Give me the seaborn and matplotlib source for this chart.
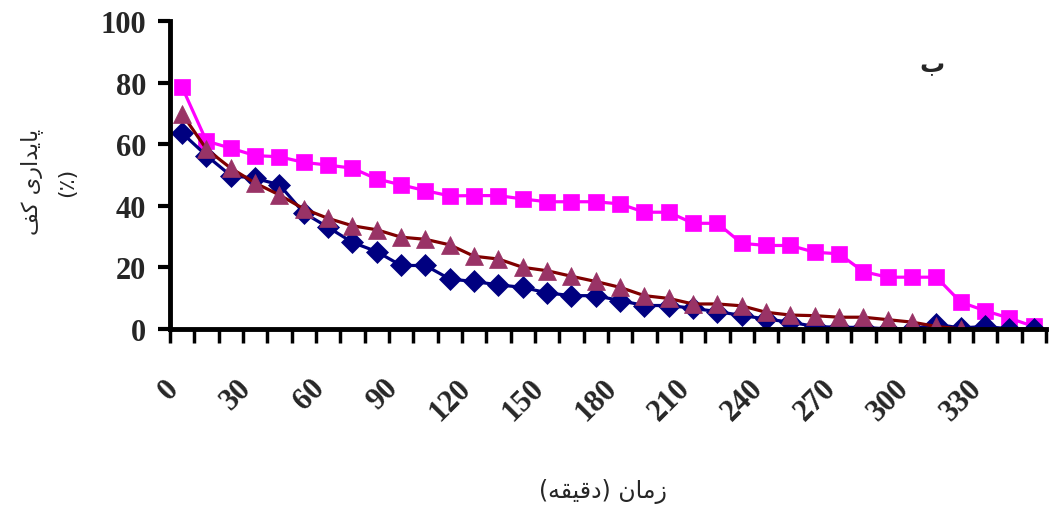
import numpy as np
import pandas as pd
import matplotlib
matplotlib.use('Agg')
import matplotlib.pyplot as plt
import matplotlib.transforms as mtransforms
import seaborn as sns

# زمان (دقیقه) - one category every 10 minutes
minutes = list(range(0, 360, 10))
tick_labels = ['0', '30', '60', '90', '120', '150', '180', '210', '240', '270', '300', '330']

navy_vals = [63.6, 56.3, 49.8, 48.9, 46.8, 37.7, 33.0, 28.1, 25.1, 20.6, 20.6, 16.2,
             15.4, 14.3, 13.5, 11.7, 10.8, 10.8, 9.2, 7.6, 7.6, 6.7, 5.6, 4.4,
             3.2, 2.2, 0.8, 0.5, 0.5, 0.0, 0.0, 1.5, 0.3, 0.8, 0.0, 0.0]
pink_vals = [78.5, 61.0, 58.7, 56.3, 55.9, 54.1, 53.2, 52.2, 48.7, 46.8, 44.9, 43.2,
             43.3, 43.3, 42.2, 41.3, 41.3, 41.3, 40.6, 37.9, 37.9, 34.3, 34.3, 27.8,
             27.1, 27.1, 24.9, 24.4, 18.6, 16.8, 16.8, 16.8, 8.7, 5.9, 3.5, 0.8]
plum_vals = [69.8, 58.4, 52.2, 47.4, 43.5, 39.0, 35.9, 33.5, 32.2, 29.8, 29.1, 27.3,
             23.6, 22.7, 20.0, 18.9, 17.1, 15.4, 13.5, 10.8, 9.9, 8.1, 8.1, 7.5,
             5.4, 4.5, 4.3, 3.8, 3.8, 3.0, 2.2, 0.8, 0.0]

# (name, values, line colour, marker colour, marker, size)
series = [
    ('pink', pink_vals, '#FF00FF', '#FF00FF', 's', 12),
    ('navy', navy_vals, '#000080', '#000080', 'D', 11),
    ('plum', plum_vals, '#800000', '#993366', '^', 13.5),
]

sns.set_style('white')
plt.rcParams['font.family'] = ['Liberation Serif', 'DejaVu Serif']
plt.rcParams['font.weight'] = 'bold'

fig = plt.figure(figsize=(10.49, 5.06), dpi=100)
ax = fig.add_axes([0.162, 0.348, 0.835, 0.6085])

for name, vals, lc, mc, mk, ms in series:
    d = pd.DataFrame({'pos': np.arange(len(vals)), 'value': vals})
    sns.lineplot(data=d, x='pos', y='value', ax=ax, color=lc, lw=2.3,
                 marker=mk, markersize=ms, markerfacecolor=mc,
                 markeredgecolor=mc, markeredgewidth=0.5)

ax.set_xlim(-0.5, len(minutes) - 0.5)
ax.set_ylim(0, 100)

# tick marks between categories, labels every 30 minutes
ax.set_xticks(np.arange(-0.5, len(minutes), 1))
ax.set_xticklabels([])
lab_pos = [minutes.index(int(t)) for t in tick_labels]
ax.set_xticks(lab_pos, tick_labels, minor=True)
ax.tick_params(axis='x', which='major', direction='out', length=10, width=2.5,
               bottom=True, color='black')
ax.tick_params(axis='x', which='minor', length=0, pad=32)
shift = mtransforms.ScaledTranslation(-13 / 72, 0, fig.dpi_scale_trans)
for tk in ax.xaxis.get_minor_ticks():
    t = tk.label1
    t.set_rotation(45)
    t.set_ha('right')
    t.set_va('top')
    t.set_rotation_mode('anchor')
    t.set_fontsize(22)
    t.set_fontweight('bold')
    t.set_transform(t.get_transform() + shift)

ax.set_yticks([0, 20, 40, 60, 80, 100])
ax.tick_params(axis='y', direction='out', length=9, width=3, left=True,
               labelsize=22, pad=8, color='black')
for t in ax.get_yticklabels():
    t.set_fontweight('bold')

for s in ['top', 'right']:
    ax.spines[s].set_visible(False)
for s in ['left', 'bottom']:
    ax.spines[s].set_linewidth(3.5)
    ax.spines[s].set_color('black')

ax.set_xlabel('')
ax.set_ylabel('')

# Persian labels written in shaped (presentation) forms, visual order
ylab = '\ufed2\ufb90 \ufbfc\ufead\ufe8d\ufeaa\ufbfe\ufe8e\ufb58\n(\u066a)'
xlab = '(\ufeea\ufed8\ufbff\ufed7\ufea9) \ufee5\ufe8e\ufee3\ufeaf'
fig.text(0.046, 0.64, ylab, rotation=90, ha='center', va='center',
         fontsize=16, family=['DejaVu Sans'], fontweight='normal',
         multialignment='center', linespacing=1.9)
fig.text(0.575, 0.028, xlab, ha='center', va='center', fontsize=17,
         family=['DejaVu Sans'], fontweight='normal')
fig.text(0.888, 0.872, '\u0628', ha='center', va='center', fontsize=18,
         family=['DejaVu Sans'], fontweight='bold')

fig.savefig('out.png', dpi=100)
